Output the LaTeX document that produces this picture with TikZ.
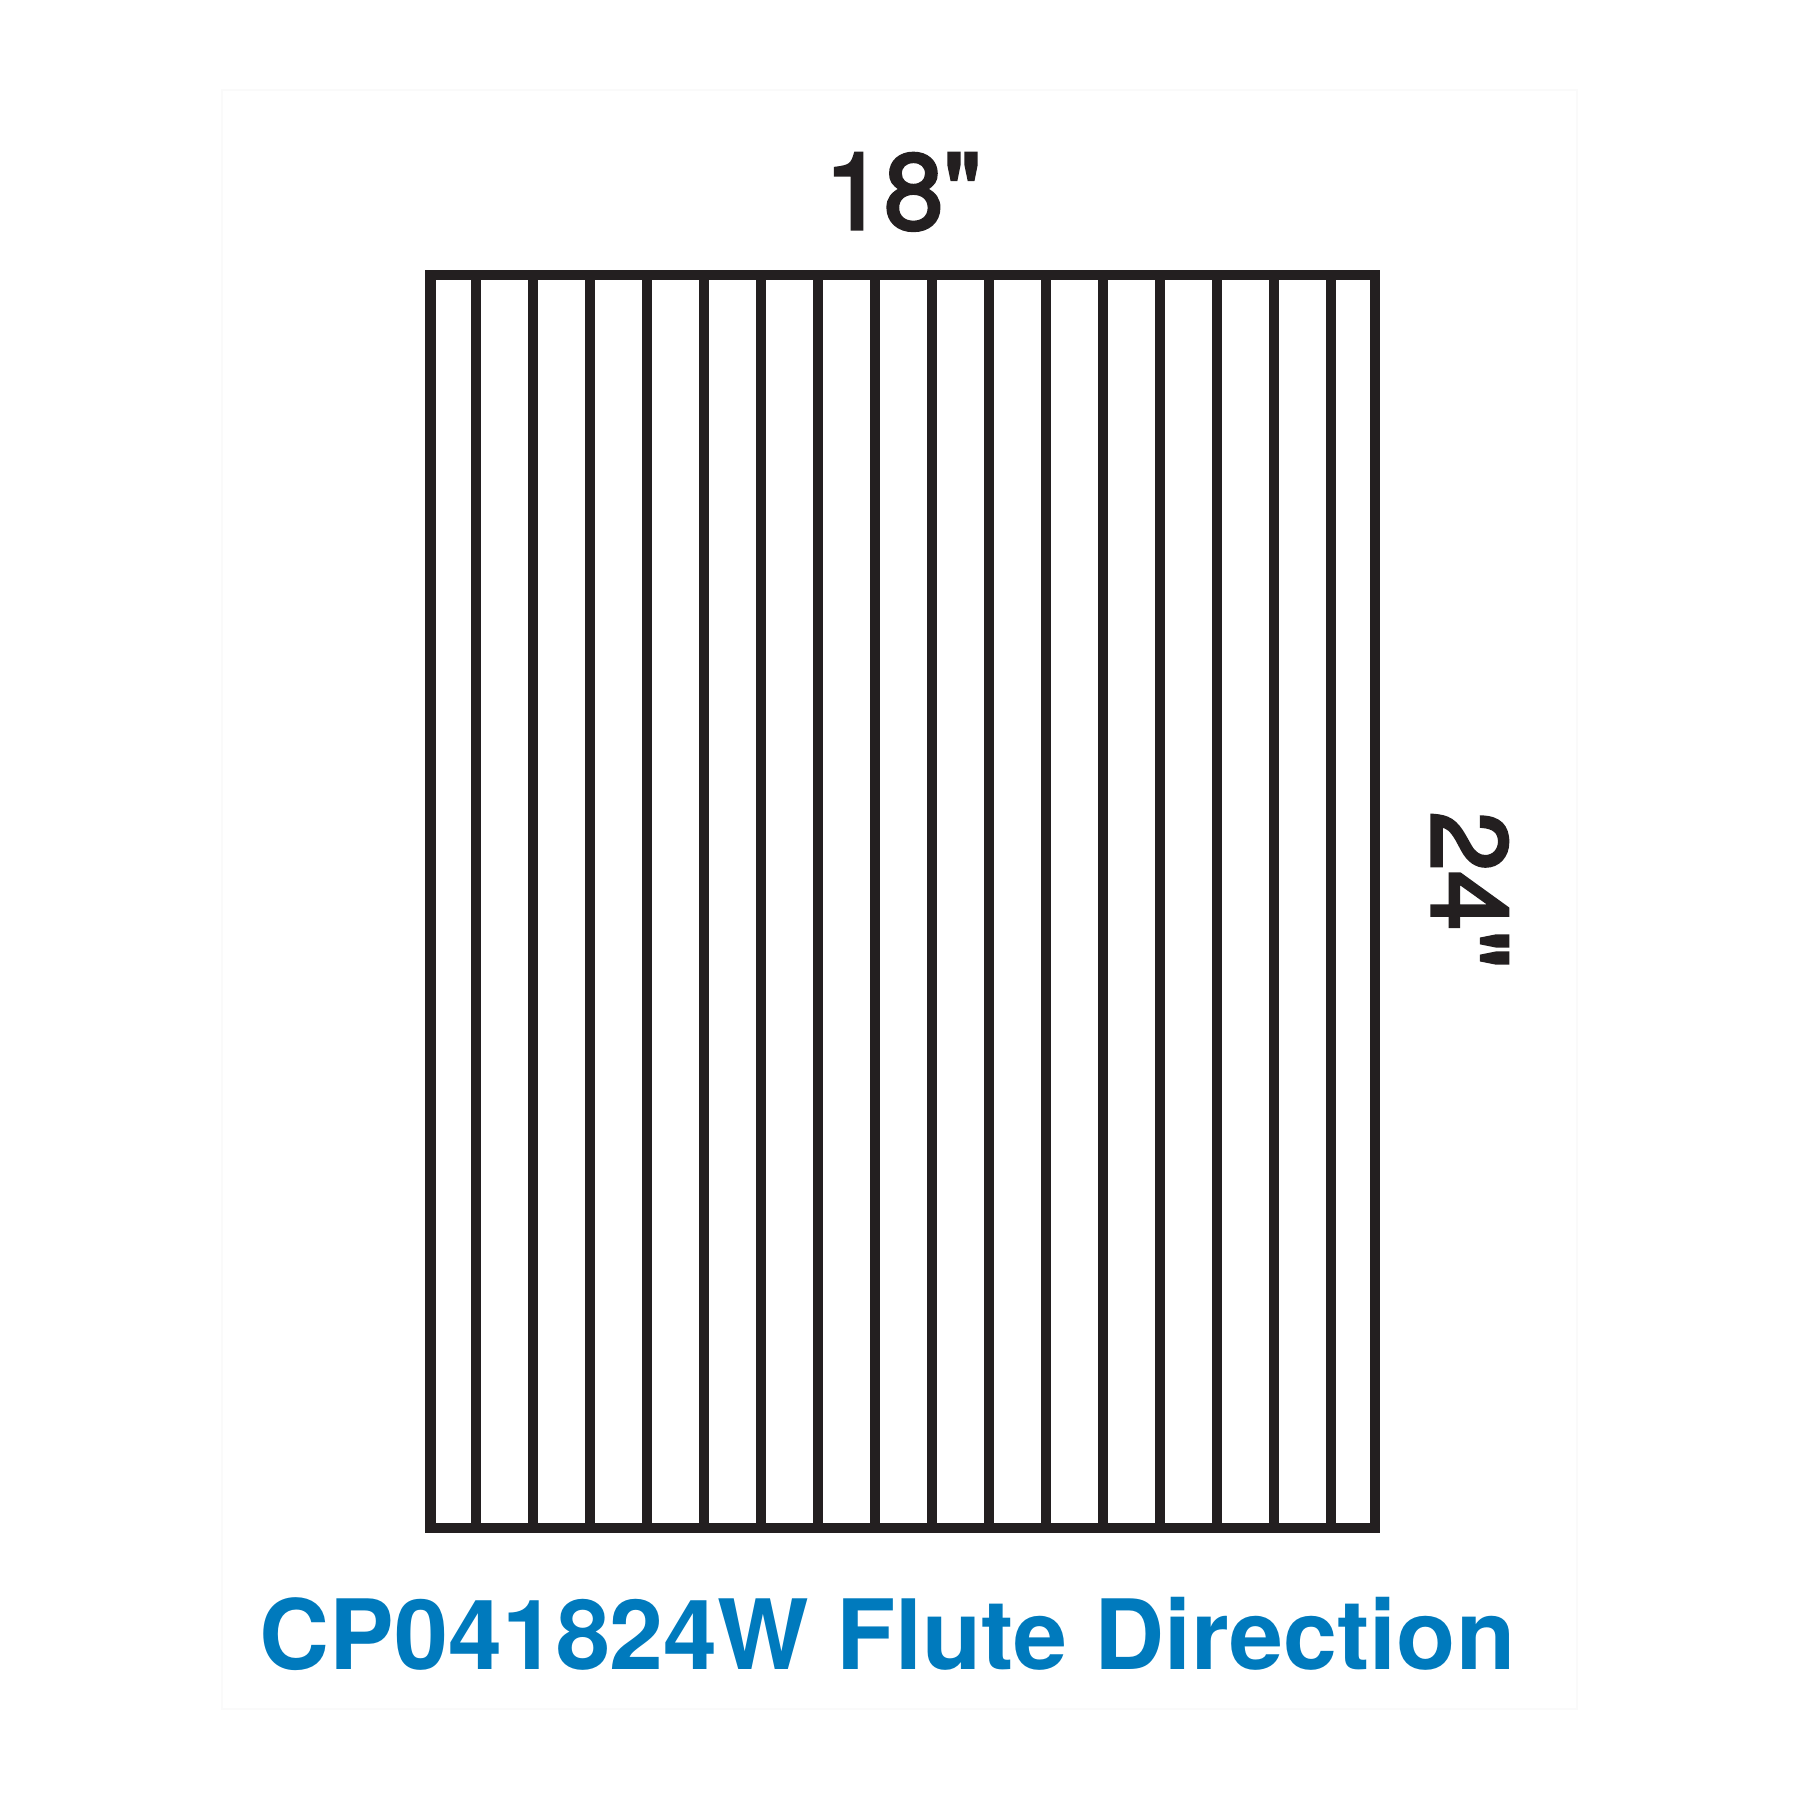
\documentclass[tikz,border=0pt]{standalone}
\usepackage{fontspec}
\setmainfont{TeX Gyre Heros}
\newfontfamily\dimfont[FakeBold=3]{TeX Gyre Heros}
\definecolor{myblack}{RGB}{35,31,32}
\definecolor{myblue}{RGB}{0,122,189}
\usetikzlibrary{positioning}

\begin{document}
\begin{tikzpicture}[panel/.style={draw=myblack, line width=3.1pt},
    flute/.style={draw=myblack, line width=3.1pt},
    dim/.style={inner sep=0pt, font=\dimfont\fontsize{30.4}{36}\selectfont, text=myblack}]
    \useasboundingbox (0,0) rectangle (18,18);
    \draw[black!2, line width=0.3pt] (2.22,0.91) rectangle (15.77,17.10);
    \coordinate (sw) at (4.305,2.72);
    \coordinate (ne) at (13.75,15.25);
    \draw[panel] (sw) rectangle (ne);
    % flutes
    \foreach \i in {0,...,15}
        \draw[flute] (4.76+0.57*\i,2.72) -- (4.76+0.57*\i,15.25);
    \node (width) [dim, anchor=base] at (9.03,15.71) {18\symbol{"22}};
    \node (height) [dim, anchor=base, rotate=-90] at (14.32,9.10) {24\symbol{"22}};
    \node (title) [anchor=base, inner sep=0pt, text=myblue,
        font=\fontsize{27.6}{33}\selectfont\bfseries] at (8.875,1.30) {CP041824W Flute Direction};
\end{tikzpicture}
\end{document}
